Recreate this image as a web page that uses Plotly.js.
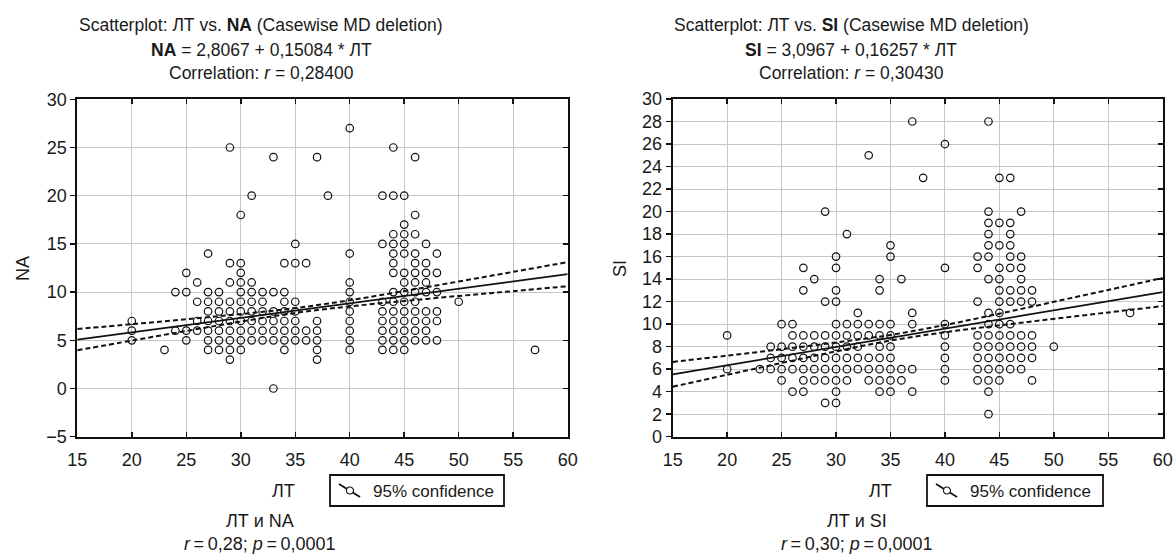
<!DOCTYPE html>
<html>
<head>
<meta charset="utf-8">
<script src="https://cdn.plot.ly/plotly-3.0.1.min.js"></script>
<style>html,body{margin:0;padding:0;background:#fff;}#chart{width:1176px;height:554px;}</style>
</head>
<body>
<div id="chart"></div>
<script>
// ---------- DATA ----------
// Left panel: ЛТ vs NA
const naLT = [
  33,
  29,37,
  23,27,28,29,30,34,37,40,43,44,45,57,
  20,25,27,28,29,30,31,32,33,34,35,36,37,40,43,44,45,46,47,48,
  20,24,25,26,27,28,29,30,31,32,33,34,35,36,37,40,43,44,45,46,47,
  20,26,27,28,29,30,31,32,33,34,35,37,40,43,44,45,46,47,48,
  27,28,29,30,31,32,33,34,35,40,43,44,45,46,47,48,
  26,27,28,29,30,31,32,34,35,40,43,44,45,46,50,
  24,25,27,28,30,31,32,33,34,40,44,45,46,47,48,
  26,29,30,31,40,45,46,47,
  25,30,44,45,46,47,48,
  29,30,34,35,36,44,46,47,
  27,40,44,45,46,48,
  35,43,44,45,47,
  44,45,46,
  45,
  30,46,
  31,38,43,44,45,
  33,37,46,
  29,44,
  40
];
const naNA = [
  0,
  3,3,
  4,4,4,4,4,4,4,4,4,4,4,4,
  5,5,5,5,5,5,5,5,5,5,5,5,5,5,5,5,5,5,5,5,
  6,6,6,6,6,6,6,6,6,6,6,6,6,6,6,6,6,6,6,6,6,
  7,7,7,7,7,7,7,7,7,7,7,7,7,7,7,7,7,7,7,
  8,8,8,8,8,8,8,8,8,8,8,8,8,8,8,8,
  9,9,9,9,9,9,9,9,9,9,9,9,9,9,9,
  10,10,10,10,10,10,10,10,10,10,10,10,10,10,10,
  11,11,11,11,11,11,11,11,
  12,12,12,12,12,12,12,
  13,13,13,13,13,13,13,13,
  14,14,14,14,14,14,
  15,15,15,15,15,
  16,16,16,
  17,
  18,18,
  20,20,20,20,20,
  24,24,24,
  25,25,
  27
];
// Right panel: ЛТ vs SI
const siLT = [
  44,
  29,30,
  26,27,30,34,35,37,44,
  25,27,28,29,30,31,33,34,35,36,40,43,44,45,48,
  20,23,24,25,26,27,28,29,30,31,32,33,34,35,36,37,40,43,44,45,46,47,
  24,25,26,27,28,29,30,31,32,33,34,35,40,43,44,45,46,47,48,
  24,25,26,27,28,29,30,31,32,34,35,40,43,44,45,46,47,48,50,
  20,26,27,28,29,30,31,32,33,34,35,40,43,44,45,46,47,48,
  25,26,30,31,32,33,34,35,37,40,44,45,46,
  32,37,44,45,57,
  29,30,43,45,46,47,48,
  27,30,34,45,46,47,48,
  28,34,36,44,45,47,
  27,30,40,43,45,46,47,
  30,35,43,44,46,47,
  35,44,45,46,
  31,44,46,
  44,45,46,
  29,44,47,
  38,45,46,
  33,
  40,
  37,44
];
const siSI = [
  2,
  3,3,
  4,4,4,4,4,4,4,
  5,5,5,5,5,5,5,5,5,5,5,5,5,5,5,
  6,6,6,6,6,6,6,6,6,6,6,6,6,6,6,6,6,6,6,6,6,6,
  7,7,7,7,7,7,7,7,7,7,7,7,7,7,7,7,7,7,7,
  8,8,8,8,8,8,8,8,8,8,8,8,8,8,8,8,8,8,8,
  9,9,9,9,9,9,9,9,9,9,9,9,9,9,9,9,9,9,
  10,10,10,10,10,10,10,10,10,10,10,10,10,
  11,11,11,11,11,
  12,12,12,12,12,12,12,
  13,13,13,13,13,13,13,
  14,14,14,14,14,14,
  15,15,15,15,15,15,15,
  16,16,16,16,16,16,
  17,17,17,17,
  18,18,18,
  19,19,19,
  20,20,20,
  23,23,23,
  25,
  26,
  28,28
];
// Regression equations (from the titles) and 95% confidence band
const naIntercept = 2.8067, naSlope = 0.15084;
const siIntercept = 3.0967, siSlope = 0.16257;
const ciLT      = [15, 20, 25, 30, 35, 40, 45, 50, 55, 60];
const naUpper   = [6.17, 6.67, 7.19, 7.72, 8.34, 9.16, 10.11, 11.10, 12.10, 13.11];
const naLower   = [3.97, 4.97, 5.97, 6.94, 7.84, 8.52, 9.07, 9.60, 10.10, 10.61];
const siUpper   = [6.64, 7.20, 7.77, 8.37, 9.04, 9.92, 10.93, 11.98, 13.04, 14.10];
const siLower   = [4.44, 5.50, 6.55, 7.58, 8.54, 9.28, 9.89, 10.47, 11.04, 11.60];
const lineLT    = [15, 60];

// ---------- CHART ----------
const W = 1176, H = 554;
const px = v => v / W;
const py = v => 1 - v / H;
const FONT = 'Liberation Sans, Arial, Helvetica, sans-serif';
const TXT = '#1a1a1a';
const TS = '\u2009'; // thin space

function pts(x, y, xa, ya) {
  return {x: x, y: y, xaxis: xa, yaxis: ya, type: 'scatter', mode: 'markers',
    marker: {symbol: 'circle-open', size: 7.5, color: '#111', line: {width: 1.2, color: '#111'}},
    hoverinfo: 'x+y', showlegend: false};
}
function fitLine(a, b, xa, ya) {
  return {x: lineLT, y: lineLT.map(v => a + b * v), xaxis: xa, yaxis: ya, type: 'scatter', mode: 'lines',
    line: {color: '#111', width: 1.8}, hoverinfo: 'skip', showlegend: false};
}
function ciLine(y, xa, ya) {
  return {x: ciLT, y: y, xaxis: xa, yaxis: ya, type: 'scatter', mode: 'lines',
    line: {color: '#111', width: 2, dash: '5px,3px', shape: 'spline'}, hoverinfo: 'skip', showlegend: false};
}
function dummy(xa, ya) {
  return {x: [null], y: [null], xaxis: xa, yaxis: ya, type: 'scatter', mode: 'markers', hoverinfo: 'skip', showlegend: false};
}

const data = [
  pts(naLT, naNA, 'x', 'y'),
  fitLine(naIntercept, naSlope, 'x', 'y'),
  ciLine(naUpper, 'x', 'y'),
  ciLine(naLower, 'x', 'y'),
  pts(siLT, siSI, 'x2', 'y2'),
  fitLine(siIntercept, siSlope, 'x2', 'y2'),
  ciLine(siUpper, 'x2', 'y2'),
  ciLine(siLower, 'x2', 'y2'),
  dummy('x', 'y3'),
  dummy('x2', 'y4')
];

const tickFont = {family: FONT, size: 18, color: TXT};
function xax(dom, anchor) {
  return {domain: dom, anchor: anchor, range: [15, 60], dtick: 5, tick0: 15,
    showgrid: true, gridcolor: '#c6c6c6', gridwidth: 1, zeroline: false,
    showline: true, linecolor: '#111', linewidth: 2, mirror: 'ticks',
    ticks: 'inside', ticklen: 5, tickcolor: '#111', tickwidth: 1.5,
    ticklabelstandoff: 6, tickfont: tickFont, fixedrange: true};
}
function yax(dom, anchor, range, dtick) {
  return {domain: dom, anchor: anchor, range: range, dtick: dtick, tick0: 0,
    showgrid: true, gridcolor: '#c6c6c6', gridwidth: 1, zeroline: false,
    showline: true, linecolor: '#111', linewidth: 2, mirror: true,
    ticks: 'outside', ticklen: 5, tickcolor: '#111', tickwidth: 1.5,
    tickfont: tickFont, fixedrange: true};
}
function yright(over, anchor, range, dtick) {
  return {overlaying: over, anchor: anchor, side: 'right', range: range, dtick: dtick, tick0: 0,
    showgrid: false, zeroline: false, showline: false, showticklabels: false,
    ticks: 'inside', ticklen: 5, tickcolor: '#111', tickwidth: 1.5, fixedrange: true};
}

const layout = {
  width: W, height: H,
  margin: {l: 0, r: 0, t: 0, b: 0},
  paper_bgcolor: '#fff', plot_bgcolor: '#fff',
  font: {family: FONT, size: 16, color: TXT},
  separators: ',',
  xaxis: xax([px(77.3), px(567.7)], 'y'),
  yaxis: yax([py(436.7), py(99.3)], 'x', [-5, 30], 5),
  xaxis2: xax([px(672.7), px(1162.7)], 'y2'),
  yaxis2: yax([py(436.7), py(99)], 'x2', [0, 30], 2),
  yaxis3: yright('y', 'x', [-5, 30], 5),
  yaxis4: yright('y2', 'x2', [0, 30], 2),
  annotations: [],
  shapes: []
};

function note(text, x, y, size, opts) {
  layout.annotations.push(Object.assign({text: text, xref: 'paper', yref: 'paper', x: px(x), y: py(y),
    xanchor: 'center', yanchor: 'middle', showarrow: false, font: {family: FONT, size: size, color: TXT}}, opts || {}));
}

const TF = 17.5, BF = 18;
// Left panel texts
note('Scatterplot: ЛТ vs. <b>NA</b> (Casewise MD deletion)', 261, 25, TF);
note('<b>NA</b> = 2,8067 + 0,15084 * ЛТ', 261, 49.5, TF);
note('Correlation: <i>r</i> = 0,28400', 261, 73, TF);
note('NA', 23, 269, BF, {textangle: -90});
note('ЛТ', 283, 491, BF);
note('ЛТ и NA', 260, 521, BF);
note('<i>r</i>' + TS + '=' + TS + '0,28; <i>p</i>' + TS + '=' + TS + '0,0001', 260, 544, BF);
// Right panel texts
note('Scatterplot: ЛТ vs. <b>SI</b> (Casewise MD deletion)', 851, 25, TF);
note('<b>SI</b> = 3,0967 + 0,16257 * ЛТ', 851, 49.5, TF);
note('Correlation: <i>r</i> = 0,30430', 851, 73, TF);
note('SI', 620, 269, BF, {textangle: -90});
note('ЛТ', 880, 491, BF);
note('ЛТ и SI', 857, 521, BF);
note('<i>r</i>' + TS + '=' + TS + '0,30; <i>p</i>' + TS + '=' + TS + '0,0001', 857, 544, BF);

// Legend boxes "95% confidence"
function legendBox(x0, x1) {
  layout.shapes.push({type: 'rect', xref: 'paper', yref: 'paper', x0: px(x0), x1: px(x1), y0: py(506), y1: py(475),
    line: {color: '#111', width: 1.8}, fillcolor: 'rgba(0,0,0,0)'});
  layout.shapes.push({type: 'line', xref: 'paper', yref: 'paper', x0: px(x0 + 9), y0: py(484), x1: px(x0 + 30), y1: py(497),
    line: {color: '#111', width: 1.8}});
  layout.shapes.push({type: 'circle', xref: 'paper', yref: 'paper', x0: px(x0 + 16.5), x1: px(x0 + 23.5), y0: py(494), y1: py(487),
    line: {color: '#111', width: 1.1}, fillcolor: '#fff'});
  layout.annotations.push({text: '95% confidence', xref: 'paper', yref: 'paper', x: px(x0 + 41), y: py(491),
    xanchor: 'left', yanchor: 'middle', showarrow: false, font: {family: FONT, size: 17, color: TXT}});
}
legendBox(330, 504);
legendBox(927, 1103);

Plotly.newPlot('chart', data, layout, {displayModeBar: false, staticPlot: true});
</script>
</body>
</html>
